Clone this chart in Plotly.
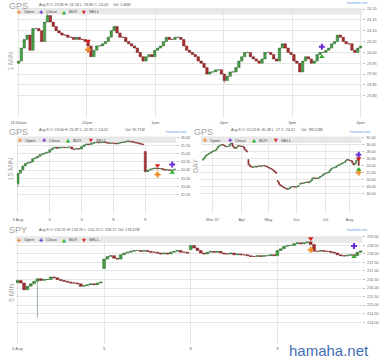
import plotly.graph_objects as go

W, H = 380, 358

# ---------------- data ----------------
# Panel 1: GPS 1 MIN (x = minutes after 11:00am)
p1_ticks = [0, 60, 120, 180, 240, 300]
p1_ticktext = ["11:00am", "12pm", "1pm", "2pm", "3pm", "4pm"]
p1_yticks = [23.80, 23.85, 23.90, 23.95, 24.00, 24.05, 24.10, 24.15, 24.20]
p1_open0 = 23.95
p1_close = [23.96, 24.02, 24.06, 24.08, 24.01, 24.11, 24.11, 24.10, 24.05, 24.14,
            24.17, 24.14, 24.12, 24.10, 24.09, 24.08, 24.08, 24.07, 24.07, 24.06,
            24.07, 24.06, 24.06, 24.05, 24.03, 23.98, 24.01, 24.03, 24.03, 24.04,
            24.05, 24.07, 24.10, 24.12, 24.09, 24.07, 24.07, 24.05, 24.04, 24.03,
            24.02, 24.00, 23.98, 23.96, 23.98, 23.99, 23.98, 24.01, 24.02, 24.03,
            24.05, 24.07, 24.06, 24.06, 24.07, 24.07, 24.06, 24.03, 24.01, 24.00,
            23.99, 23.98, 23.96, 23.95, 23.93, 23.90, 23.91, 23.91, 23.92, 23.92,
            23.90, 23.87, 23.89, 23.91, 23.91, 23.93, 23.96, 23.98, 24.00, 24.00,
            23.98, 23.97, 23.96, 23.95, 23.97, 24.00, 24.00, 23.99, 23.97, 23.96,
            24.02, 24.04, 24.02, 24.00, 23.99, 23.96, 23.95, 23.91, 23.96, 23.98,
            23.97, 23.95, 23.96, 23.99, 24.00, 24.00, 24.01, 24.02, 24.04, 24.05,
            24.08, 24.07, 24.05, 24.04, 24.04, 24.01, 24.00, 24.02, 24.03]
p1_gap_idx, p1_gap_open = [], []
p1_wick_idx = [10, 71]
p1_wick_val = [24.18, 23.86]
p1_mark_x = [61, 266, 266, 61]          # Open, Close, BUY, SELL (minutes)
p1_mark_y = [24.012, 24.026, 23.98, 24.053]

# Panel 2: GPS 15 MIN (bar index, 13 bars per day)
p2_ticks = [0, 13, 26, 39, 52]
p2_ticktext = ["3 Aug", "4", "5", "8", "9"]
p2_yticks = [22.5, 23.0, 23.5, 24.0, 24.5, 25.0, 25.5, 26.0]
p2_open0 = 23.15
p2_close = [23.80, 24.00, 24.25, 24.40, 24.45, 24.50, 24.70, 24.75, 24.85, 24.95, 25.00, 25.05, 25.10,
            25.25, 25.35, 25.40, 25.35, 25.40, 25.40, 25.38, 25.40, 25.42, 25.30, 25.28, 25.32, 25.30,
            25.45, 25.55, 25.60, 25.58, 25.65, 25.68, 25.70, 25.68, 25.70, 25.72, 25.68, 25.65, 25.66,
            25.65, 25.62, 25.66, 25.70, 25.72, 25.76, 25.78, 25.75, 25.72, 25.68, 25.65, 25.60, 25.58,
            23.90, 24.00, 24.05, 24.10, 24.12, 24.08, 24.10, 24.05, 24.00, 24.02, 23.98, 24.00, 24.05]
p2_gap_idx = [52]
p2_gap_open = [25.15]
p2_wick_idx = [0, 45]
p2_wick_val = [22.95, 25.87]
p2_mark_x = [57, 63, 63, 57]
p2_mark_y = [23.73, 24.34, 23.85, 24.28]

# Panel 3: GPS DAY (trading-day index)
p3_ticks = [7, 29, 49, 70, 92, 110]
p3_ticktext = ["Mar 07", "Apr", "May", "Jun", "Jul", "Aug"]
p3_yticks = [16, 18, 20, 22, 24, 26, 28, 30, 32]
p3_open0 = 25.53
p3_close = [26.0, 26.5, 26.9, 27.2, 27.4, 27.6, 27.9, 28.1, 28.2, 28.4,
            28.9, 29.5, 29.7, 29.9, 30.0, 29.8, 29.6, 29.4, 29.5, 29.5,
            30.2, 30.4, 29.5, 29.1, 28.9, 29.3, 29.7, 29.6, 29.5, 29.6,
            29.3, 28.6, 28.2, 27.9, 24.3, 23.8, 23.6, 23.5, 23.6, 23.7,
            23.6, 23.8, 23.9, 23.8, 23.9, 24.0, 23.9, 23.8, 23.6, 23.4,
            23.2, 23.0, 22.8, 22.4, 22.1, 21.8, 19.3, 18.6, 18.3, 18.0,
            17.8, 17.6, 17.4, 17.2, 17.3, 17.6, 17.9, 18.0, 17.9, 17.8,
            17.9, 18.1, 18.2, 18.9, 19.0, 18.9, 19.1, 19.2, 19.3, 19.1,
            19.4, 19.7, 20.4, 20.5, 20.3, 20.4, 20.3, 20.6, 20.9, 21.0,
            21.4, 21.7, 21.8, 21.9, 22.0, 22.6, 23.1, 23.3, 23.4, 23.4,
            23.8, 24.0, 24.2, 24.4, 24.6, 24.8, 24.9, 25.4, 25.7, 25.6,
            25.5, 25.4, 24.8, 24.2, 24.6, 25.5, 25.7, 24.02]
p3_gap_idx = [34, 56, 73]
p3_gap_open = [25.7, 19.7, 18.6]
p3_wick_idx = [21, 63]
p3_wick_val = [30.48, 17.0]
p3_mark_x = [117, 117, 117, 117]
p3_mark_y = [22.0, 27.1, 22.9, 26.0]

# Panel 4: SPY 5 MIN (bar index, 26 bars per day)
p4_ticks = [0, 26, 52, 78]
p4_ticktext = ["4 Aug", "5", "8", "9"]
p4_yticks = [214.0, 214.5, 215.0, 215.5, 216.0, 216.5, 217.0, 217.5, 218.0, 218.5, 219.0]
p4_open0 = 216.31
p4_close = [216.45, 216.30, 215.90, 216.10, 216.25, 216.40, 216.55, 216.45, 216.50, 216.50,
            216.65, 216.60, 216.50, 216.45, 216.40, 216.35, 216.30, 216.30, 216.25, 216.10,
            216.15, 216.20, 216.25, 216.20, 216.30, 216.35,
            217.70, 217.85, 217.90, 217.75, 217.70, 217.95, 218.05, 218.10, 218.15, 218.20,
            218.20, 218.15, 218.20, 218.15, 218.10, 218.10, 218.05, 218.00, 218.05, 218.00,
            218.10, 218.15, 218.20, 218.10, 218.10, 218.05,
            218.50, 218.35, 218.20, 218.05, 218.00, 218.10, 218.15, 218.10, 218.15, 218.05,
            218.00, 218.00, 218.05, 217.95, 218.00, 217.95, 217.95, 217.90, 217.85, 217.85,
            217.90, 217.85, 217.90, 217.90, 217.95, 217.90,
            218.20, 218.30, 218.45, 218.50, 218.50, 218.60, 218.65, 218.60, 218.65, 218.70,
            218.55, 218.15, 218.15, 218.20, 218.15, 218.15, 218.10, 218.05, 217.95, 217.90,
            217.88, 217.92, 217.95, 217.90, 218.10, 218.17]
p4_gap_idx = [26, 52]
p4_gap_open = [217.15, 218.25]
p4_wick_idx = [6, 88]
p4_wick_val = [214.25, 218.76]
p4_mark_x = [88, 101, 101, 88]
p4_mark_y = [218.25, 218.47, 217.84, 218.90]


def ohlc(open0, closes, gap_idx, gap_open, wick_idx, wick_val):
    opens = [open0] + closes[:-1]
    for i, o in zip(gap_idx, gap_open):
        opens[i] = o
    highs = [max(o, c) for o, c in zip(opens, closes)]
    lows = [min(o, c) for o, c in zip(opens, closes)]
    for i, v in zip(wick_idx, wick_val):
        if v < lows[i]:
            lows[i] = v
        elif v > highs[i]:
            highs[i] = v
    return opens, highs, lows, closes


def px_x(v):
    return v / W


def px_y(v):
    return 1 - v / H


fig = go.Figure()

inc = dict(fillcolor="#45a045", line=dict(color="#3b6e3b", width=0.5))
dec = dict(fillcolor="#a83030", line=dict(color="#7a2525", width=0.5))

mark_sym = ["cross", "cross", "triangle-up", "triangle-down"]
mark_col = ["#f0891e", "#6c2bd6", "#2fb02f", "#d81e1e"]

panels = [
    dict(o=p1_open0, c=p1_close, gi=p1_gap_idx, go=p1_gap_open, wi=p1_wick_idx, wv=p1_wick_val,
         mx=p1_mark_x, my=p1_mark_y, ax="", step=300 / (len(p1_close) - 1)),
    dict(o=p2_open0, c=p2_close, gi=p2_gap_idx, go=p2_gap_open, wi=p2_wick_idx, wv=p2_wick_val,
         mx=p2_mark_x, my=p2_mark_y, ax="2", step=1),
    dict(o=p3_open0, c=p3_close, gi=p3_gap_idx, go=p3_gap_open, wi=p3_wick_idx, wv=p3_wick_val,
         mx=p3_mark_x, my=p3_mark_y, ax="3", step=1),
    dict(o=p4_open0, c=p4_close, gi=p4_gap_idx, go=p4_gap_open, wi=p4_wick_idx, wv=p4_wick_val,
         mx=p4_mark_x, my=p4_mark_y, ax="4", step=1),
]

for p in panels:
    o, h, l, c = ohlc(p["o"], p["c"], p["gi"], p["go"], p["wi"], p["wv"])
    xs = [i * p["step"] for i in range(len(c))]
    fig.add_trace(go.Candlestick(x=xs, open=o, high=h, low=l, close=c,
                                 increasing=inc, decreasing=dec, whiskerwidth=0,
                                 xaxis="x" + p["ax"], yaxis="y" + p["ax"],
                                 showlegend=False, hoverinfo="skip"))
    for k in range(4):
        fig.add_trace(go.Scatter(x=[p["mx"][k]], y=[p["my"][k]], mode="markers",
                                 marker=dict(symbol=mark_sym[k], color=mark_col[k], size=5,
                                             line=dict(width=0)),
                                 xaxis="x" + p["ax"], yaxis="y" + p["ax"],
                                 showlegend=False, hoverinfo="skip"))

TICKF = dict(size=3.8, color="#666", family="Liberation Sans, Arial")
GRID = "#e6e6e6"


def xax(dom, ticks, text, rng, anchor):
    return dict(domain=dom, range=rng, tickvals=ticks, ticktext=text, showgrid=True,
                gridcolor=GRID, gridwidth=1, zeroline=False, showline=False, ticks="",
                tickfont=dict(size=4.2, color="#666", family="Liberation Sans, Arial"),
                anchor=anchor, rangeslider=dict(visible=False),
                fixedrange=True, ticklabelstandoff=1)


def yax(dom, ticks, rng, anchor):
    return dict(domain=dom, range=rng, tickvals=ticks, tickformat=".2f", side="right",
                showgrid=True, gridcolor=GRID, gridwidth=1, zeroline=False, showline=False,
                ticks="outside", ticklen=2, tickcolor="#bbb", tickfont=TICKF,
                ticklabelstandoff=1, anchor=anchor, fixedrange=True)


# plot rectangles (pixels): left, right, top, bottom
R1 = (11, 365, 7, 117)
R2 = (11, 174, 136, 214)
R3 = (200, 364, 136, 214)
R4 = (10, 365, 236, 344)


def dom_x(r):
    return [r[0] / W, r[1] / W]


def dom_y(r):
    return [1 - r[3] / H, 1 - r[2] / H]


fig.update_layout(
    width=W, height=H, margin=dict(l=0, r=0, t=0, b=0),
    paper_bgcolor="white", plot_bgcolor="white", showlegend=False,
    boxgap=0.15, boxgroupgap=0,
    xaxis=xax(dom_x(R1), p1_ticks, p1_ticktext, [-1.5, 301.5], "y"),
    yaxis=yax(dom_y(R1), p1_yticks, [23.699, 24.205], "x"),
    xaxis2=xax(dom_x(R2), p2_ticks, p2_ticktext, [-0.5, 64.5], "y2"),
    yaxis2=yax(dom_y(R2), p2_yticks, [21.27, 26.06], "x2"),
    xaxis3=xax(dom_x(R3), p3_ticks, p3_ticktext, [-1.5, 119], "y3"),
    yaxis3=yax(dom_y(R3), p3_yticks, [10.0, 32.29], "x3"),
    xaxis4=xax(dom_x(R4), p4_ticks, p4_ticktext, [-0.5, 103.5], "y4"),
    yaxis4=yax(dom_y(R4), p4_yticks, [212.72, 219.03], "x4"),
)

# legend bands
shapes = []
for r in (R1, R2, R3, R4):
    shapes.append(dict(type="rect", xref="paper", yref="paper",
                       x0=px_x(r[0]), x1=px_x(r[1]), y0=px_y(r[2] + 6.5), y1=px_y(r[2]),
                       fillcolor="#e8e8e8", line=dict(width=0), layer="between"))
fig.update_layout(shapes=shapes)

ann = []


def txt(x, y, s, size, color, xanchor="left", angle=0, family="Liberation Sans, Arial"):
    ann.append(dict(x=px_x(x), y=px_y(y), xref="paper", yref="paper", text=s,
                    showarrow=False, xanchor=xanchor, yanchor="middle", textangle=angle,
                    font=dict(size=size, color=color, family=family)))


HEAD = "#555"
TITLE = "#a0a0a0"
# titles
txt(1, 5.3, "GPS", 9, TITLE)
txt(1, 131.5, "GPS", 9, TITLE)
txt(190, 131.5, "GPS", 9, TITLE)
txt(1, 229.5, "SPY", 9, TITLE)
# headers
txt(32, 4, "Aug 9 O: 23.95 H: 24.18 L: 23.86 C: 24.03", 3.7, HEAD)
txt(108, 4, "Vol: 5.46M", 3.7, HEAD)
txt(32, 129.5, "Aug 9 O: 23.06 H: 25.87 L: 22.95 C: 24.02", 3.7, HEAD)
txt(120, 129.5, "Vol: 35.71M", 3.7, HEAD)
txt(228, 129.5, "Aug 9 O: 25.53 H: 30.48 L: 17 C: 24.02", 3.7, HEAD)
txt(300, 129.5, "Vol: 785.53M", 3.7, HEAD)
txt(32, 229.5, "Aug 9 O: 216.31 H: 218.76 L: 214.25 C: 218.17", 3.7, HEAD)
txt(113, 229.5, "Vol: 176.47M", 3.7, HEAD)
# small links
LINK = "#5a9be0"
txt(373, 2.5, "hamaha.net", 3.8, LINK, "right")
txt(187, 131, "hamaha.net", 3.8, LINK, "right")
txt(376, 131, "hamaha.net", 3.8, LINK, "right")
txt(373, 230, "hamaha.net", 3.8, LINK, "right")
# side labels
txt(5, 60, "1 MIN", 7, "#aaa", "center", -90)
txt(5, 168, "15 MIN", 7, "#aaa", "center", -90)
txt(194, 165, "DAY", 7, "#aaa", "center", -90)
txt(5, 292, "5 MIN", 7, "#aaa", "center", -90)
# legend entries
glyphs = ["✚", "✚", "▲", "▼"]
names = ["Open", "Close", "BUY", "SELL"]
for xs, y in (([13, 36, 59, 80], 10.7), ([14, 39, 64, 87], 139.5),
              ([204, 229, 254, 277], 139.5), ([13, 36, 59, 80], 239.5)):
    for k in range(4):
        txt(xs[k], y, glyphs[k], 5, mark_col[k], "center", family="DejaVu Sans")
        txt(xs[k] + 3, y, names[k], 4.2, "#444")
# watermark
txt(374, 350, "hamaha.net", 15, "#3f6fb5", "right")
fig.update_layout(annotations=ann)

fig.write_html("out.html", config={"displayModeBar": False, "staticPlot": True},
               post_script="document.body.style.margin='0px';document.body.style.overflow='hidden';")
